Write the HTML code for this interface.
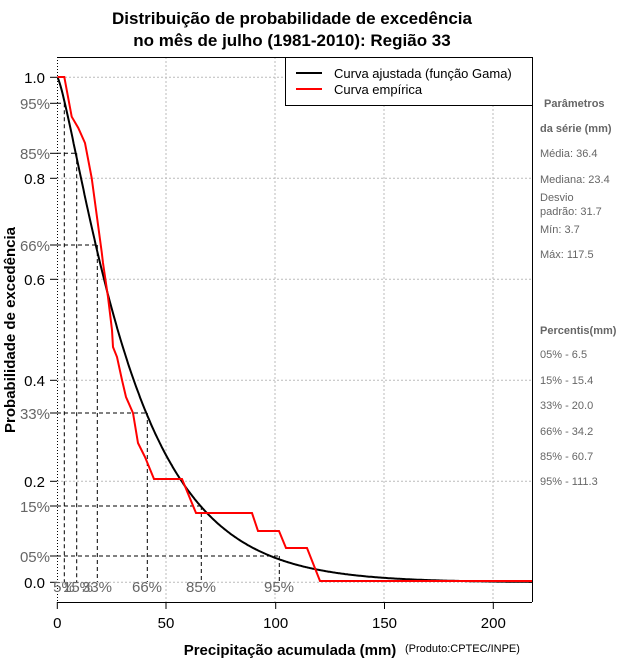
<!DOCTYPE html>
<html><head><meta charset="utf-8"><style>
body{margin:0;background:#fff;}
svg{display:block;font-family:"Liberation Sans",Arial,sans-serif;}
</style></head><body>
<svg id="s" width="640" height="660" xmlns="http://www.w3.org/2000/svg">
<defs><clipPath id="c"><rect x="57" y="57" width="475" height="545"/></clipPath></defs>
<text x="292" y="24" font-size="17" font-weight="bold" text-anchor="middle">Distribuição de probabilidade de excedência</text>
<text x="292" y="46" font-size="17" font-weight="bold" text-anchor="middle">no mês de julho (1981-2010): Região 33</text>
<g stroke="#bbb" stroke-width="1" stroke-dasharray="2,2">
<line x1="166" y1="57" x2="166" y2="602"/><line x1="275" y1="57" x2="275" y2="602"/><line x1="384" y1="57" x2="384" y2="602"/><line x1="493" y1="57" x2="493" y2="602"/>
<line x1="57" y1="77.3" x2="532" y2="77.3"/><line x1="57" y1="178.3" x2="532" y2="178.3"/><line x1="57" y1="279.3" x2="532" y2="279.3"/><line x1="57" y1="380.3" x2="532" y2="380.3"/><line x1="57" y1="481.3" x2="532" y2="481.3"/><line x1="57" y1="582.3" x2="532" y2="582.3"/>
</g>
<line x1="57.5" y1="57" x2="57.5" y2="602" stroke="#000" stroke-dasharray="1,2"/>
<line x1="57" y1="57.5" x2="532" y2="57.5" stroke="#000"/>
<line x1="532.5" y1="57" x2="532.5" y2="602" stroke="#000"/>
<line x1="57" y1="602.5" x2="532" y2="602.5" stroke="#000"/>
<g id="dash" stroke="#000" stroke-dasharray="4,3" stroke-width="1"></g>
<path id="gam" fill="none" stroke="#000" stroke-width="2" clip-path="url(#c)"/>
<polyline fill="none" stroke="#f00" stroke-width="2" clip-path="url(#c)" points="57.5,77 64.3,77 71.7,116.7 78.3,128 85,143 91.7,178 101.7,252 103,263 108,297 112,330 113,347 117,357 122,380 126,397 133,413 138,443 145,457 154,479 182,479 196,513 252,513 258,531 279,531 286,548 307,548 320,581 532,581"/>
<g stroke="#000">
<line x1="50" y1="77.3" x2="57" y2="77.3"/><line x1="50" y1="178.3" x2="57" y2="178.3"/><line x1="50" y1="279.3" x2="57" y2="279.3"/><line x1="50" y1="380.3" x2="57" y2="380.3"/><line x1="50" y1="481.3" x2="57" y2="481.3"/><line x1="50" y1="582.3" x2="57" y2="582.3"/>
<line x1="50" y1="103.3" x2="57" y2="103.3"/><line x1="50" y1="153.3" x2="57" y2="153.3"/><line x1="50" y1="245" x2="57" y2="245"/><line x1="50" y1="413" x2="57" y2="413"/><line x1="50" y1="506" x2="57" y2="506"/><line x1="50" y1="556" x2="57" y2="556"/>
<line x1="57.3" y1="602" x2="57.3" y2="609"/><line x1="166" y1="602" x2="166" y2="609"/><line x1="275.7" y1="602" x2="275.7" y2="609"/><line x1="384.5" y1="602" x2="384.5" y2="609"/><line x1="493.3" y1="602" x2="493.3" y2="609"/>
</g>
<g font-size="15" text-anchor="end">
<text x="45" y="83">1.0</text><text x="45" y="184">0.8</text><text x="45" y="285">0.6</text><text x="45" y="386">0.4</text><text x="45" y="487">0.2</text><text x="45" y="588">0.0</text>
</g>
<g font-size="15" text-anchor="end" fill="#666">
<text x="50" y="109">95%</text><text x="50" y="159">85%</text><text x="50" y="251">66%</text><text x="50" y="419">33%</text><text x="50" y="512">15%</text><text x="50" y="562">05%</text>
</g>
<g font-size="15" text-anchor="middle" fill="#666">
<text x="64" y="592">5%</text><text x="78" y="592">15%</text><text x="97" y="592">33%</text><text x="147" y="592">66%</text><text x="201" y="592">85%</text><text x="279" y="592">95%</text>
</g>
<g font-size="15" text-anchor="middle">
<text x="57.3" y="628">0</text><text x="166" y="628">50</text><text x="275.7" y="628">100</text><text x="384.5" y="628">150</text><text x="493.3" y="628">200</text>
</g>
<text x="290" y="655" font-size="15" font-weight="bold" text-anchor="middle">Precipitação acumulada (mm)</text>
<text x="405" y="652" font-size="11">(Produto:CPTEC/INPE)</text>
<text transform="translate(15,330) rotate(-90)" font-size="15" font-weight="bold" text-anchor="middle">Probabilidade de excedência</text>
<rect x="285.5" y="57.5" width="247" height="48" fill="#fff" stroke="#000"/>
<line x1="296" y1="73" x2="322" y2="73" stroke="#000" stroke-width="2"/>
<line x1="296" y1="89" x2="322" y2="89" stroke="#f00" stroke-width="2"/>
<text x="334" y="78" font-size="13">Curva ajustada (função Gama)</text>
<text x="334" y="94" font-size="13">Curva empírica</text>
<g font-size="11" fill="#666">
<text x="544" y="107" font-weight="bold">Parâmetros</text>
<text x="540" y="132" font-weight="bold">da série (mm)</text>
<text x="540" y="157">Média: 36.4</text>
<text x="540" y="183">Mediana: 23.4</text>
<text x="540" y="201">Desvio</text>
<text x="540" y="215">padrão: 31.7</text>
<text x="540" y="233">Mín: 3.7</text>
<text x="540" y="258">Máx: 117.5</text>
<text x="540" y="334" font-weight="bold">Percentis(mm)</text>
<text x="540" y="358">05% - 6.5</text>
<text x="540" y="384">15% - 15.4</text>
<text x="540" y="409">33% - 20.0</text>
<text x="540" y="435">66% - 34.2</text>
<text x="540" y="460">85% - 60.7</text>
<text x="540" y="485">95% - 111.3</text>
</g>
</svg>
<script>
(function(){
var k=1.318,th=27.6;
function lg(z){var c=[76.18009172947146,-86.50532032941677,24.01409824083091,-1.231739572450155,0.1208650973866179e-2,-0.5395239384953e-5];var x=z,y=z,t=x+5.5;t-=(x+0.5)*Math.log(t);var s=1.000000000190015;for(var j=0;j<6;j++)s+=c[j]/++y;return -t+Math.log(2.5066282746310005*s/x);}
var G=lg(k);
function pdf(x){return x<=0?0:Math.exp((k-1)*Math.log(x/th)-x/th-G)/th;}
var pts=[],S=1,h=0.02,x=0,X=function(v){return 57.3+v*2.18},Y=function(p){return 582.3-p*505};
pts.push(X(0)+","+Y(1));
for(var i=1;i<=11000;i++){var x0=x;x+=h;S-=h*(pdf(x0)+4*pdf(x0+h/2)+pdf(x))/6; if(i%25==0)pts.push(X(x).toFixed(1)+","+Y(Math.max(S,0)).toFixed(1));}
document.getElementById('gam').setAttribute('d','M'+pts.join(' L'));
var d=[[64.3,103.3],[76.7,153.3],[97.3,245],[147.3,413],[201.3,506],[279.3,556]],g=document.getElementById('dash'),ns='http://www.w3.org/2000/svg';
d.forEach(function(a){var l=document.createElementNS(ns,'line');l.setAttribute('x1',57);l.setAttribute('y1',a[1]);l.setAttribute('x2',a[0]);l.setAttribute('y2',a[1]);g.appendChild(l);
l=document.createElementNS(ns,'line');l.setAttribute('x1',a[0]);l.setAttribute('y1',a[1]);l.setAttribute('x2',a[0]);l.setAttribute('y2',582);g.appendChild(l);});
})();
</script>
</body></html>
